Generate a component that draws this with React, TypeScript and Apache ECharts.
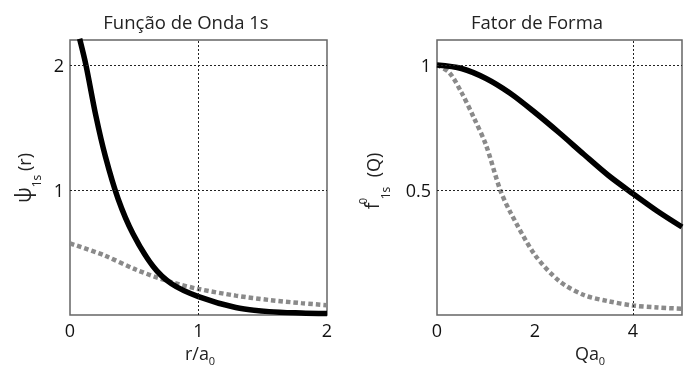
import React, { useEffect, useRef } from "react";
import * as echarts from "echarts";

// ---- Data ----
// Left panel: wave function psi_1s(r) vs r/a0
const leftBlackR = [0.075, 0.124, 0.2, 0.275, 0.374, 0.49, 0.646, 0.79, 1.0, 1.29, 1.55, 1.8, 2.0];
const leftBlackPsi = [2.21, 2.0, 1.6, 1.27, 0.93, 0.65, 0.39, 0.25, 0.147, 0.06, 0.027, 0.016, 0.012];
const leftGrayR = [0, 0.26, 0.52, 0.775, 1.0, 1.29, 1.55, 1.8, 2.0];
const leftGrayPsi = [0.573, 0.48, 0.36, 0.267, 0.208, 0.155, 0.12, 0.095, 0.078];

// Right panel: form factor f_1s(Q) vs Q a0
const rightBlackQ = [0, 0.5, 1, 1.5, 2, 2.5, 3, 3.5, 4, 4.5, 5];
const rightBlackF = [1.0, 0.986, 0.946, 0.886, 0.81, 0.728, 0.642, 0.558, 0.485, 0.415, 0.352];
const rightGrayQ = [0, 0.25, 0.5, 0.75, 1, 1.29, 1.5, 2, 2.5, 3, 3.5, 4, 4.5, 5];
const rightGrayF = [1.0, 0.97, 0.89, 0.79, 0.68, 0.5, 0.41, 0.24, 0.135, 0.08, 0.055, 0.038, 0.03, 0.025];

// Tick labels
const leftXTicks = [0, 1, 2];
const leftYTicks = [1, 2];
const rightXTicks = [0, 2, 4];
const rightYTicks = [0.5, 1];

// Reference (dotted) grid lines
const leftGridX = [1];
const leftGridY = [1, 2];
const rightGridX = [4];
const rightGridY = [0.5, 1];

const titles = ["Função de Onda 1s", "Fator de Forma"];

const FONT = "'Open Sans', 'Noto Sans', sans-serif";

function pairs(xs: number[], ys: number[]) {
  return xs.map((x, i) => [x, ys[i]]);
}

export default function App() {
  const ref = useRef<HTMLDivElement>(null);
  useEffect(() => {
    if (!ref.current) return;
    const chart = echarts.init(ref.current, undefined, { renderer: "svg" });

    const labelStyle = (ticks: number[]) => ({
      show: true,
      fontFamily: FONT,
      fontSize: 18,
      color: "#111",
      margin: 6,
      formatter: (v: number) => (ticks.some((t) => Math.abs(t - v) < 1e-9) ? String(v) : ""),
    });

    const gridMark = (xs: number[], ys: number[]) => ({
      silent: true,
      symbol: "none",
      label: { show: false },
      lineStyle: { type: [2, 2], width: 1, color: "#222" },
      emphasis: { disabled: true },
      data: [...xs.map((v) => ({ xAxis: v })), ...ys.map((v) => ({ yAxis: v }))],
    });

    const txt = (text: string, x: number, y: number, size: number, rot = 0) => ({
      type: "text",
      x,
      y,
      rotation: rot,
      z: 100,
      style: {
        text,
        fontFamily: FONT,
        fontSize: size,
        fill: "#222",
        align: "center",
        verticalAlign: "middle",
      },
    });
    const R = Math.PI / 2;

    const gray = { color: "#8a8a8a", width: 4.5, type: [4.5, 3], cap: "butt" };
    const black = { color: "#000", width: 5.5 };

    chart.setOption({
      animation: false,
      grid: [
        { left: 70, top: 40, width: 257, height: 275, show: true, borderColor: "#666", borderWidth: 1.5, backgroundColor: "transparent" },
        { left: 437, top: 40, width: 257, height: 275, show: true, borderColor: "#666", borderWidth: 1.5, backgroundColor: "transparent" },
      ],
      xAxis: [
        { type: "value", gridIndex: 0, min: 0, max: 2, interval: 1, axisLine: { show: false }, axisTick: { show: false }, splitLine: { show: false }, axisLabel: labelStyle(leftXTicks) },
        { type: "value", gridIndex: 1, min: 0, max: 5, interval: 2, axisLine: { show: false }, axisTick: { show: false }, splitLine: { show: false }, axisLabel: labelStyle(rightXTicks) },
      ],
      yAxis: [
        { type: "value", gridIndex: 0, min: 0, max: 2.2, interval: 1, axisLine: { show: false }, axisTick: { show: false }, splitLine: { show: false }, axisLabel: labelStyle(leftYTicks) },
        { type: "value", gridIndex: 1, min: 0, max: 1.1, interval: 0.5, axisLine: { show: false }, axisTick: { show: false }, splitLine: { show: false }, axisLabel: labelStyle(rightYTicks) },
      ],
      series: [
        {
          type: "line", xAxisIndex: 0, yAxisIndex: 0, z: 2, clip: true, showSymbol: false, smooth: 0.3,
          data: pairs(leftGrayR, leftGrayPsi),
          lineStyle: gray,
          markLine: gridMark(leftGridX, leftGridY),
        },
        {
          type: "line", xAxisIndex: 0, yAxisIndex: 0, z: 3, clip: true, showSymbol: false, smooth: 0.3,
          data: pairs(leftBlackR, leftBlackPsi),
          lineStyle: black,
        },
        {
          type: "line", xAxisIndex: 1, yAxisIndex: 1, z: 2, clip: true, showSymbol: false, smooth: 0.3,
          data: pairs(rightGrayQ, rightGrayF),
          lineStyle: gray,
          markLine: gridMark(rightGridX, rightGridY),
        },
        {
          type: "line", xAxisIndex: 1, yAxisIndex: 1, z: 3, clip: true, showSymbol: false, smooth: 0.3,
          data: pairs(rightBlackQ, rightBlackF),
          lineStyle: black,
        },
      ],
      graphic: [
        txt(titles[0], 186, 21, 18.5),
        txt(titles[1], 537, 21, 18.5),
        // x axis names
        txt("r/a", 197, 353, 18),
        txt("0", 212, 360, 11),
        txt("Qa", 587, 353, 18),
        txt("0", 602, 360, 11),
        // left y axis name: psi_1s (r)
        txt("ψ", 23, 195, 21, R),
        txt("1s", 36, 181, 12, R),
        txt("(r)", 24, 162, 18, R),
        // right y axis name: f^0_1s (Q)
        txt("f", 371, 206, 20, R),
        txt("0", 362, 201, 11, R),
        txt("1s", 385, 193, 12, R),
        txt("(Q)", 373, 165, 18, R),
      ],
    });
    return () => chart.dispose();
  }, []);
  return <div ref={ref} style={{ position: "fixed", left: 0, top: 0, width: 685, height: 369 }} />;
}
